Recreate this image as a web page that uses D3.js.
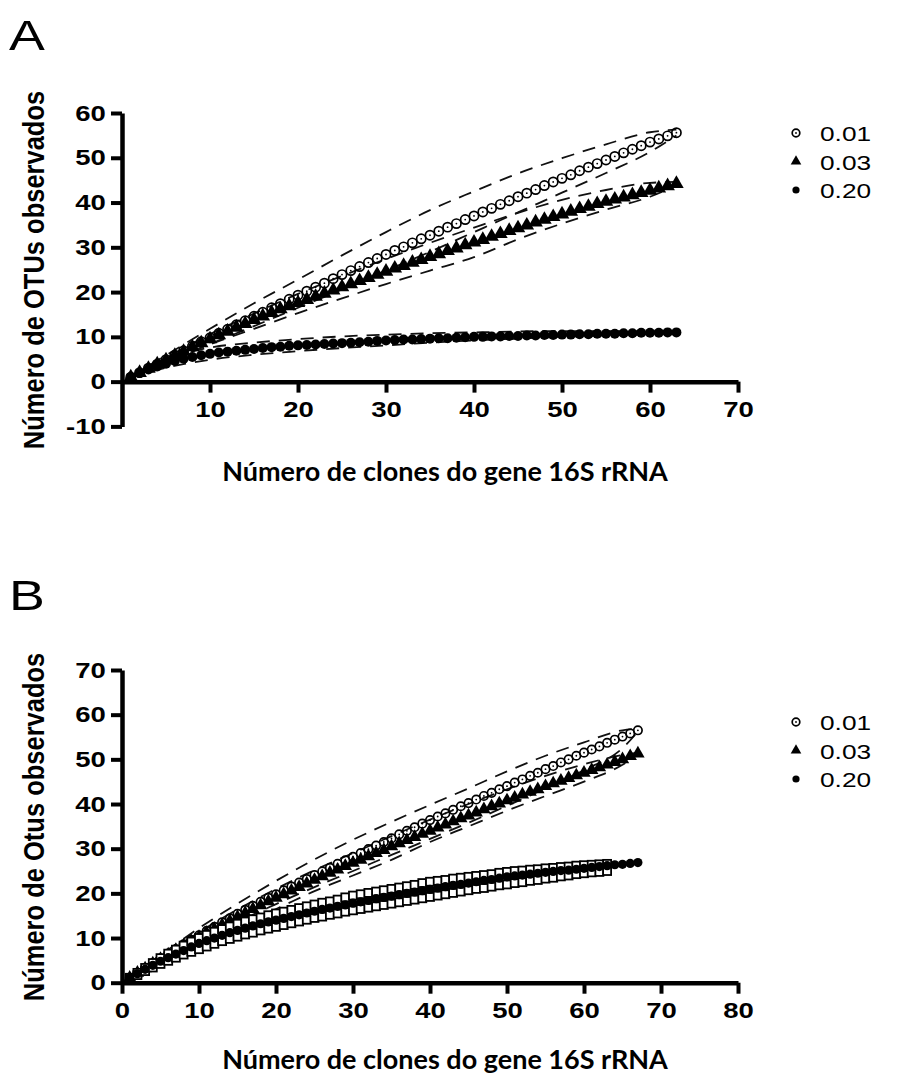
<!DOCTYPE html>
<html>
<head>
<meta charset="utf-8">
<script src="https://cdn.jsdelivr.net/npm/d3@7"></script>
<style>
  body { margin: 0; background: #fff; }
  text { font-family: "Liberation Sans", Arial, sans-serif; fill: #000; }
</style>
</head>
<body>
<div id="chart"></div>
<script>
const width = 918;
const height = 1075;

// legend labels (distance cut-off) and their markers
const seriesLabels = ["0.01", "0.03", "0.20"];
const legendKinds = ["circle", "triangle", "dot"];

// ---------- Panel A : observed OTUs, clones 1..63 ----------
const otuA001 = [1.0, 2.0, 3.0, 3.9, 4.9, 5.9, 6.9, 7.9, 8.9, 9.8,
  10.8, 11.7, 12.7, 13.6, 14.6, 15.5, 16.5, 17.4, 18.4, 19.3,
  20.2, 21.1, 22.0, 23.0, 23.9, 24.8, 25.7, 26.6, 27.5, 28.4,
  29.3, 30.1, 31.0, 31.9, 32.7, 33.6, 34.5, 35.3, 36.2, 37.0,
  37.9, 38.7, 39.6, 40.4, 41.3, 42.1, 42.9, 43.8, 44.6, 45.4,
  46.2, 47.1, 47.9, 48.7, 49.5, 50.3, 51.1, 51.9, 52.7, 53.5,
  54.2, 54.9, 55.6];
const otuA003 = [1.0, 2.0, 2.9, 3.9, 4.8, 5.8, 6.7, 7.7, 8.6, 9.5,
  10.4, 11.2, 12.1, 12.9, 13.8, 14.6, 15.4, 16.2, 16.9, 17.6,
  18.3, 19.0, 19.7, 20.4, 21.1, 21.8, 22.5, 23.2, 23.9, 24.6,
  25.3, 25.9, 26.6, 27.2, 27.9, 28.5, 29.2, 29.8, 30.5, 31.1,
  31.7, 32.4, 33.0, 33.7, 34.3, 34.9, 35.6, 36.2, 36.8, 37.4,
  38.0, 38.6, 39.1, 39.7, 40.2, 40.7, 41.2, 41.7, 42.2, 42.7,
  43.2, 43.7, 44.2];
const otuA020 = [1.0, 1.9, 2.7, 3.4, 4.0, 4.6, 5.1, 5.5, 5.9, 6.2,
  6.5, 6.7, 6.9, 7.1, 7.3, 7.5, 7.7, 7.8, 8.0, 8.1,
  8.2, 8.3, 8.4, 8.5, 8.6, 8.7, 8.8, 8.9, 9.1, 9.2,
  9.3, 9.4, 9.4, 9.5, 9.6, 9.7, 9.7, 9.8, 9.9, 10.0,
  10.0, 10.1, 10.1, 10.2, 10.2, 10.3, 10.3, 10.4, 10.4, 10.5,
  10.5, 10.6, 10.6, 10.7, 10.7, 10.7, 10.8, 10.8, 10.9, 10.9,
  10.9, 11.0, 11.0];

// 95% confidence limits (dashed), read at these clone counts
const ciClonesA = [1, 5, 10, 15, 20, 25, 30, 35, 40, 45, 50, 55, 60, 63];
const ciA001Up  = [1.2, 5.9, 11.8, 17.5, 22.8, 28.2, 33.4, 38.3, 42.5, 46.5, 49.9, 53.0, 55.7, 56.3];
const ciA001Low = [0.9, 4.3, 8.4, 12.4, 16.5, 20.6, 24.8, 29.0, 33.4, 37.8, 42.2, 46.6, 51.3, 55.0];
const ciA003Up  = [1.1, 5.3, 10.6, 15.2, 19.6, 23.6, 27.4, 31.0, 34.4, 37.7, 40.6, 42.8, 44.4, 44.6];
const ciA003Low = [0.9, 4.3, 8.3, 11.8, 15.3, 18.6, 21.8, 24.8, 27.8, 31.8, 35.3, 38.4, 41.3, 43.8];
const ciA020Up  = [1.1, 5.0, 7.6, 8.7, 9.5, 10.1, 10.5, 10.8, 11.0, 11.2, 11.3, 11.3, 11.3, 11.2];
const ciA020Low = [0.9, 3.1, 4.9, 6.0, 6.8, 7.5, 8.1, 8.7, 9.2, 9.6, 10.0, 10.3, 10.6, 10.9];

// ---------- Panel B : observed OTUs, clones 1..67 ----------
const otuB001 = [1.1, 2.2, 3.3, 4.3, 5.4, 6.5, 7.5, 8.6, 9.6, 10.6,
  11.6, 12.5, 13.5, 14.4, 15.4, 16.3, 17.2, 18.1, 19.0, 19.8,
  20.7, 21.5, 22.4, 23.2, 24.1, 24.9, 25.7, 26.6, 27.4, 28.2,
  29.0, 29.9, 30.7, 31.5, 32.3, 33.2, 34.0, 34.8, 35.6, 36.4,
  37.2, 37.9, 38.7, 39.5, 40.2, 41.0, 41.8, 42.5, 43.3, 44.0,
  44.8, 45.5, 46.3, 47.0, 47.8, 48.5, 49.3, 50.0, 50.8, 51.5,
  52.2, 52.9, 53.7, 54.4, 55.1, 55.8, 56.5];
const otuB003 = [1.1, 2.2, 3.2, 4.3, 5.3, 6.3, 7.3, 8.3, 9.3, 10.2,
  11.1, 12.0, 12.9, 13.8, 14.7, 15.6, 16.5, 17.3, 18.2, 19.0,
  19.8, 20.6, 21.4, 22.2, 23.0, 23.8, 24.6, 25.3, 26.1, 26.8,
  27.5, 28.3, 29.0, 29.7, 30.5, 31.2, 31.9, 32.6, 33.3, 34.0,
  34.7, 35.4, 36.1, 36.8, 37.4, 38.1, 38.8, 39.5, 40.1, 40.8,
  41.4, 42.1, 42.7, 43.3, 44.0, 44.6, 45.2, 45.8, 46.4, 47.0,
  47.6, 48.2, 48.8, 49.4, 50.0, 50.7, 51.3];
const otuB020 = [1.0, 2.0, 3.0, 3.9, 4.8, 5.6, 6.4, 7.2, 8.0, 8.8,
  9.4, 10.0, 10.6, 11.2, 11.7, 12.2, 12.7, 13.2, 13.6, 14.0,
  14.4, 14.8, 15.2, 15.6, 16.0, 16.4, 16.7, 17.1, 17.4, 17.8,
  18.1, 18.4, 18.8, 19.1, 19.4, 19.7, 20.0, 20.3, 20.6, 20.9,
  21.2, 21.5, 21.8, 22.0, 22.3, 22.6, 22.9, 23.1, 23.4, 23.7,
  23.9, 24.1, 24.3, 24.5, 24.7, 24.9, 25.1, 25.2, 25.4, 25.6,
  25.8, 26.0, 26.2, 26.4, 26.5, 26.7, 26.9];
// open squares around the 0.20 curve (clones 1..63)
const sqB020Up = [1.1, 2.2, 3.3, 4.4, 5.5, 6.5, 7.4, 8.3, 9.2, 10.0,
  10.7, 11.4, 12.0, 12.6, 13.2, 13.7, 14.2, 14.6, 15.1, 15.5,
  15.9, 16.3, 16.7, 17.1, 17.5, 17.9, 18.2, 18.6, 19.1, 19.5,
  19.8, 20.1, 20.4, 20.7, 21.0, 21.3, 21.6, 21.9, 22.3, 22.6,
  22.8, 23.0, 23.3, 23.5, 23.7, 23.9, 24.1, 24.3, 24.6, 24.8,
  25.0, 25.1, 25.3, 25.4, 25.6, 25.7, 25.9, 26.0, 26.2, 26.3,
  26.4, 26.5, 26.6];
const sqB020Low = [0.8, 1.7, 2.6, 3.4, 4.2, 4.9, 5.6, 6.3, 6.9, 7.5,
  8.1, 8.7, 9.3, 9.8, 10.3, 10.8, 11.2, 11.7, 12.1, 12.5,
  12.9, 13.3, 13.7, 14.1, 14.5, 14.8, 15.2, 15.5, 15.9, 16.2,
  16.5, 16.8, 17.1, 17.4, 17.7, 18.0, 18.3, 18.6, 18.9, 19.2,
  19.5, 19.8, 20.1, 20.4, 20.7, 21.0, 21.2, 21.5, 21.8, 22.0,
  22.3, 22.5, 22.8, 23.0, 23.3, 23.5, 23.8, 24.0, 24.3, 24.5,
  24.7, 24.8, 25.0];

const ciClonesB = [1, 5, 10, 15, 20, 25, 30, 35, 40, 45, 50, 55, 60, 65, 67];
const ciB001Up  = [1.3, 6.2, 12.2, 17.7, 22.8, 27.6, 32.0, 36.0, 39.8, 43.5, 47.3, 50.8, 53.8, 56.5, 56.9];
const ciB001Low = [1.0, 4.7, 9.2, 13.6, 17.6, 21.4, 25.0, 28.6, 32.2, 35.8, 39.6, 43.5, 47.6, 52.5, 56.2];
const ciB003Up  = [1.2, 5.7, 11.3, 16.4, 21.0, 25.2, 29.0, 32.8, 36.5, 40.0, 43.3, 46.3, 48.9, 51.0, 51.5];
const ciB003Low = [0.9, 4.5, 8.8, 12.8, 16.5, 20.5, 24.0, 27.5, 31.5, 35.0, 38.5, 41.8, 45.0, 48.8, 51.1];

const svg = d3.select("#chart")
  .append("svg")
  .attr("width", width)
  .attr("height", height);

const STRETCH = 1.25; // the figure is horizontally stretched

// text placed at (x,y) and stretched horizontally
function stretchText(parent, x, y, str, size, weight, anchor) {
  parent.append("g")
    .attr("transform", `translate(${x},${y})`)
    .append("text")
    .attr("transform", `scale(${STRETCH},1)`)
    .attr("text-anchor", anchor || "start")
    .style("font-size", size + "px")
    .style("font-weight", weight || "normal")
    .text(str);
}

function drawMarker(g, kind, cx, cy, r) {
  if (kind === "circle") {
    g.append("circle").attr("cx", cx).attr("cy", cy).attr("r", r)
      .attr("fill", "none").attr("stroke", "#000").attr("stroke-width", 1.7);
    g.append("circle").attr("cx", cx).attr("cy", cy).attr("r", 0.9).attr("fill", "#000");
  } else if (kind === "triangle") {
    g.append("path")
      .attr("transform", `translate(${cx},${cy})`)
      .attr("d", d3.symbol(d3.symbolTriangle, r * r * 3.4)())
      .attr("fill", "#000");
  } else if (kind === "dot") {
    g.append("circle").attr("cx", cx).attr("cy", cy).attr("r", r).attr("fill", "#000");
  } else if (kind === "square") {
    g.append("rect").attr("x", cx - r).attr("y", cy - r)
      .attr("width", 2 * r).attr("height", 2 * r)
      .attr("fill", "#fff").attr("stroke", "#000").attr("stroke-width", 1.8);
  }
}

function drawPanel(p) {
  const x = d3.scaleLinear().domain(p.xDomain).range([122, 738]);
  const y = d3.scaleLinear().domain(p.yDomain).range(p.yRange);
  const g = svg.append("g");

  // dashed confidence limits
  const line = d3.line()
    .x(d => x(d[0]))
    .y(d => y(d[1]))
    .curve(d3.curveMonotoneX);
  p.ci.forEach(vals => {
    g.append("path")
      .attr("d", line(p.ciClones.map((c, i) => [c, vals[i]])))
      .attr("fill", "none")
      .attr("stroke", "#111")
      .attr("stroke-width", 1.8)
      .attr("stroke-dasharray", "13,9");
  });

  // marker series
  p.series.forEach(s => {
    const sg = g.append("g");
    s.values.forEach((v, i) => drawMarker(sg, s.kind, x(i + 1), y(v), s.r));
  });

  // axes
  const xAxis = d3.axisBottom(x)
    .tickValues(p.xTicks)
    .tickSize(11)
    .tickSizeOuter(0)
    .tickPadding(9)
    .tickFormat(d => String(d));
  const gx = g.append("g")
    .attr("transform", `translate(0,${y(0)})`)
    .call(xAxis);

  const yAxis = d3.axisLeft(y)
    .tickValues(p.yTicks)
    .tickSize(11)
    .tickSizeOuter(0)
    .tickPadding(2)
    .tickFormat(d => String(d));
  const gy = g.append("g")
    .attr("transform", `translate(${x(0)},0)`)
    .call(yAxis);

  [gx, gy].forEach(a => {
    a.select(".domain").attr("stroke", "#000").attr("stroke-width", 4.5);
    a.selectAll(".tick line").attr("stroke", "#000").attr("stroke-width", 4);
    a.selectAll(".tick text")
      .attr("transform", `scale(${STRETCH},1)`)
      .style("font-size", "22px")
      .style("font-weight", "bold")
      .style("font-family", "'Liberation Sans', Arial, sans-serif")
      .attr("fill", "#000");
  });

  // panel letter
  stretchText(svg, 9, p.letterY, p.letter, 43, "normal");

  // y title
  svg.append("text")
    .attr("transform", `translate(44,${p.yTitleY}) scale(1.15,1) rotate(-90)`)
    .attr("text-anchor", "middle")
    .style("font-size", "25.5px")
    .style("font-weight", "bold")
    .text(p.yTitle);

  // x title
  svg.append("text")
    .attr("x", 445)
    .attr("y", p.xTitleY)
    .attr("text-anchor", "middle")
    .style("font-family", "Lato, 'Open Sans', sans-serif")
    .style("font-size", "27px")
    .style("font-weight", "bold")
    .text("Número de clones do gene 16S rRNA");

  // legend
  seriesLabels.forEach((lab, i) => {
    const ly = p.legendY + i * 28.5;
    const kind = legendKinds[i];
    drawMarker(svg, kind, 796, ly, kind === "dot" ? 3.6 : 3.8);
    stretchText(svg, 820, ly + 8, lab, 21, "normal");
  });
}

drawPanel({
  letter: "A", letterY: 50,
  xDomain: [0, 70], yDomain: [-10, 60], yRange: [426.4, 113],
  xTicks: [10, 20, 30, 40, 50, 60, 70],
  yTicks: [-10, 0, 10, 20, 30, 40, 50, 60],
  yTitle: "Número de OTUs observados", yTitleY: 270,
  xTitleY: 481,
  legendY: 133,
  ciClones: ciClonesA,
  ci: [ciA001Up, ciA001Low, ciA003Up, ciA003Low, ciA020Up, ciA020Low],
  series: [
    { kind: "circle", values: otuA001, r: 4.6 },
    { kind: "triangle", values: otuA003, r: 5.2 },
    { kind: "dot", values: otuA020, r: 5.0 }
  ]
});

drawPanel({
  letter: "B", letterY: 610,
  xDomain: [0, 80], yDomain: [0, 70], yRange: [982.7, 670],
  xTicks: [0, 10, 20, 30, 40, 50, 60, 70, 80],
  yTicks: [0, 10, 20, 30, 40, 50, 60, 70],
  yTitle: "Número de Otus observados", yTitleY: 827,
  xTitleY: 1069,
  legendY: 722,
  ciClones: ciClonesB,
  ci: [ciB001Up, ciB001Low, ciB003Up, ciB003Low],
  series: [
    { kind: "circle", values: otuB001, r: 4.2 },
    { kind: "triangle", values: otuB003, r: 4.8 },
    { kind: "square", values: sqB020Up, r: 4.0 },
    { kind: "square", values: sqB020Low, r: 4.0 },
    { kind: "dot", values: otuB020, r: 4.6 }
  ]
});
</script>
</body>
</html>
